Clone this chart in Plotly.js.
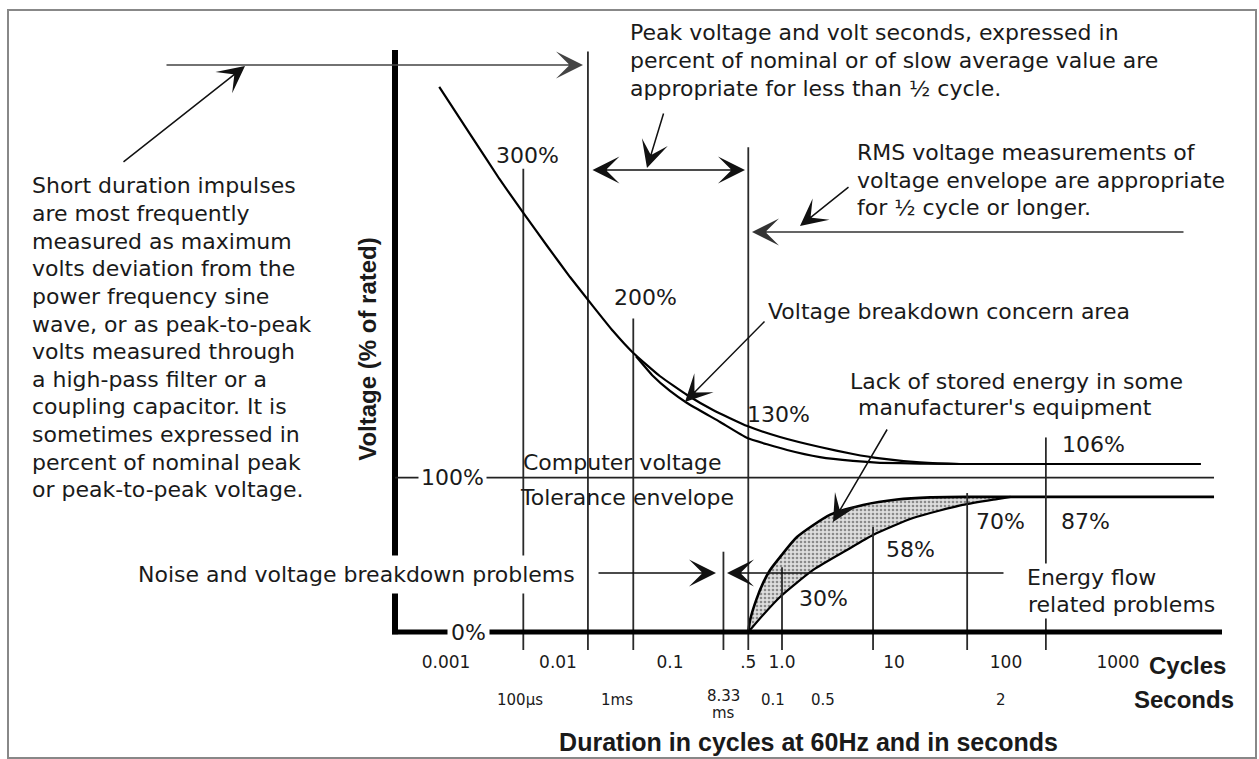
<!DOCTYPE html>
<html>
<head>
<meta charset="utf-8">
<script src="https://cdn.plot.ly/plotly-3.0.1.min.js"></script>
<style>html,body{margin:0;padding:0;background:#fff}#chart{width:1259px;height:759px}</style>
</head>
<body>
<div id="chart"></div>
<script>
// ---------- data (duration in cycles at 60 Hz, voltage in % of rated) ----------
const xTickVals = [0.001, 0.01, 0.1, 0.5, 1, 10, 100, 1000];
const xTickText = ['0.001', '0.01', '0.1', '.5', '1.0', '10', '100', '1000'];

// over-voltage envelope (outer curve)
const overCycles = [0.00087, 0.00164, 0.0030, 0.0049, 0.0080, 0.0128, 0.0205, 0.031, 0.047, 0.081, 0.142, 0.242, 0.49, 0.96, 2.18, 4.3, 7.5, 17, 39, 5500];
const overPct    = [353, 322.5, 293.4, 271.4, 250, 229.9, 211.1, 194.9, 180.7, 165.8, 153.5, 143.8, 133.4, 126.3, 119.8, 115.3, 112.4, 109.8, 108.8, 108.8];

// inner branch: voltage breakdown concern area
const breakCycles = [0.0497, 0.0705, 0.1, 0.142, 0.28, 0.49, 1.11, 2.18, 4.3, 7.5, 17, 39];
const breakPct    = [178.6, 165.8, 156.1, 148.3, 136, 125.6, 117.9, 113.3, 110.8, 109.6, 109.1, 108.8];

// under-voltage envelope (outer) and inner curve: lack of stored energy band
const underOuterCycles = [0.5, 0.52, 0.59, 0.68, 0.78, 0.96, 1.36, 2.7, 5.3, 10.6, 21, 45, 7200];
const underOuterPct    = [0, 8, 21, 32, 40, 48.5, 61.5, 76, 82.3, 85.8, 87.2, 87.5, 87.5];
const underInnerCycles = [0.5, 0.69, 0.96, 1.9, 3.8, 6.5, 14.8, 41, 83, 110];
const underInnerPct    = [0, 11.7, 22.7, 40.2, 53.1, 62.8, 73.8, 82.3, 86.1, 87.5];

// vertical reference lines (duration, top of line in %)
const markerCycles = [0.0049, 0.0185, 0.047, 0.3, 0.5, 1, 6.5, 45, 227];
const markerTopPct = [300, 376, 203, 52, 314, 42, 68, 90, 126];

const nominalPct = 100;
const pctLabels = ['300%', '200%', '130%', '106%', '87%', '70%', '58%', '30%'];
const secLabels = ['100µs', '1ms', '8.33', 'ms', '0.1', '0.5', '2'];

const noteImpulse = ['Short duration impulses', 'are most frequently', 'measured as maximum',
  'volts deviation from the', 'power frequency sine', 'wave, or as peak-to-peak',
  'volts measured through', 'a high-pass filter or a', 'coupling capacitor. It is',
  'sometimes expressed in', 'percent of nominal peak', 'or peak-to-peak voltage.'];
const notePeak = ['Peak voltage and volt seconds, expressed in',
  'percent of nominal or of slow average value are', 'appropriate for less than ½ cycle.'];
const noteRms = ['RMS voltage measurements of', 'voltage envelope are appropriate', 'for ½ cycle or longer.'];

// ---------- layout geometry ----------
const L = 395, T = 48, W = 827, H = 602;
const PX = x => (x - L) / W;
const PY = y => (T + H - y) / H;
const yRange = [-11.66, 378.24];
const xRange = [-3.4554, 3.9286];

const F = 'DejaVu Sans, Verdana, sans-serif';
const FB = 'Liberation Sans, Arial, sans-serif';
const INK = '#1a1a1a';

function txt(text, x, y, o) {
  return Object.assign({text: text, xref: 'paper', yref: 'paper', x: PX(x), y: PY(y),
    xanchor: 'left', yanchor: 'middle', showarrow: false, borderpad: 0,
    font: {family: F, size: 22, color: INK}}, o || {});
}
function arrow(hx, hy, tx, ty, o) {
  return Object.assign({text: '', xref: 'paper', yref: 'paper', x: PX(hx), y: PY(hy),
    ax: tx - hx, ay: ty - hy, axref: 'pixel', ayref: 'pixel', showarrow: true,
    arrowhead: 3, arrowsize: 3, arrowwidth: 1.5, arrowcolor: '#111',
    standoff: 0, startstandoff: 0}, o || {});
}

// ---------- traces ----------
const mx = [], my = [];
markerCycles.forEach((c, i) => { mx.push(c, c, null); my.push(yRange[0] - 5, markerTopPct[i], null); });

const traces = [
  {x: underInnerCycles, y: underInnerPct, mode: 'lines', line: {color: '#000', width: 2.2, shape: 'spline', smoothing: 0.6}, hoverinfo: 'skip'},
  {x: underOuterCycles, y: underOuterPct, mode: 'lines', line: {color: '#000', width: 2.6, shape: 'spline', smoothing: 0.6},
   fill: 'tonexty', fillcolor: '#d4d4d4',
   fillpattern: {shape: '.', bgcolor: '#dedede', fgcolor: '#8a8a8a', size: 4, solidity: 0.35}, hoverinfo: 'skip'},
  {x: mx, y: my, mode: 'lines', line: {color: '#2a2a2a', width: 1.8}, hoverinfo: 'skip', connectgaps: false},
  {x: breakCycles, y: breakPct, mode: 'lines', line: {color: '#000', width: 2.2, shape: 'spline', smoothing: 0.4}, hoverinfo: 'skip'},
  {x: overCycles, y: overPct, mode: 'lines', line: {color: '#000', width: 2.2, shape: 'spline', smoothing: 0.4}, hoverinfo: 'skip'}
];

// ---------- annotations ----------
const ann = [];
noteImpulse.forEach((s, i) => ann.push(txt(s, 31, 186 + i * 27.6)));
notePeak.forEach((s, i) => ann.push(txt(s, 629, 32 + i * 28)));
noteRms.forEach((s, i) => ann.push(txt(s, 856, 152 + i * 28)));

const pctPos = [[527, 155], [645, 297], [778, 415], [1093, 445], [1085, 521], [1000, 521], [910, 549], [823, 598]];
pctLabels.forEach((s, i) => ann.push(txt(s, pctPos[i][0], pctPos[i][1], {xanchor: 'center'})));

ann.push(txt('Voltage breakdown concern area', 767, 311));
ann.push(txt('Lack of stored energy in some', 849, 381));
ann.push(txt("manufacturer's equipment", 857, 408));
ann.push(txt('Computer voltage', 522, 462));
ann.push(txt('Tolerance envelope', 519, 497));
ann.push(txt('Noise and voltage breakdown problems', 582, 574, {xanchor: 'right', bgcolor: '#fff', borderpad: 6}));
ann.push(txt('Energy flow', 1025, 577, {bgcolor: '#fff', borderpad: 1}));
ann.push(txt('related problems', 1026, 604, {bgcolor: '#fff', borderpad: 1}));

// stub labels on the vertical axis
ann.push({text: '100%', xref: 'paper', yref: 'y', x: PX(452), y: nominalPct, xanchor: 'center', yanchor: 'middle',
  showarrow: false, bgcolor: '#fff', borderpad: 2, font: {family: F, size: 22, color: INK}});
ann.push({text: '0%', xref: 'paper', yref: 'y', x: PX(468), y: 0, xanchor: 'center', yanchor: 'middle',
  showarrow: false, bgcolor: '#fff', borderpad: 3, font: {family: F, size: 22, color: INK}});

// axis captions
ann.push(txt('Cycles', 1148, 665, {font: {family: FB, size: 24, color: INK, weight: 'bold'}}));
ann.push(txt('Seconds', 1133, 699, {font: {family: FB, size: 24, color: INK, weight: 'bold'}}));
const secPos = [[520, 700], [617, 700], [723, 696], [723, 713], [773, 700], [823, 700], [1001, 700]];
secLabels.forEach((s, i) => ann.push(txt(s, secPos[i][0], secPos[i][1], {xanchor: 'center', font: {family: F, size: 15, color: INK}})));

// arrows
ann.push(arrow(583, 65, 165, 65, {arrowcolor: '#444'}));
ann.push(arrow(245, 66, 122, 163));
ann.push(arrow(745, 170, 591, 170, {arrowside: 'end+start'}));
ann.push(arrow(647, 168, 664, 112));
ann.push(arrow(752, 232, 1185, 232, {arrowcolor: '#333'}));
ann.push(arrow(800, 226, 850, 186));
ann.push(arrow(685, 402, 766, 320));
ann.push(arrow(833, 522, 888, 428));
ann.push(arrow(716, 573, 597, 573));
ann.push(arrow(727, 573, 1005, 573));

// ---------- shapes (axes frame and reference lines) ----------
const shapes = [
  {type: 'rect', xref: 'paper', yref: 'paper', x0: PX(8), x1: PX(1256), y0: PY(758), y1: PY(10), line: {color: '#888', width: 2}},
  {type: 'line', xref: 'paper', yref: 'y', x0: 0, x1: 0, y0: -1.5, y1: 377, line: {color: '#000', width: 6}},
  {type: 'line', xref: 'paper', yref: 'y', x0: PX(392), x1: PX(1222), y0: 0, y1: 0, line: {color: '#000', width: 5}},
  {type: 'line', xref: 'paper', yref: 'y', x0: 0, x1: PX(1214), y0: nominalPct, y1: nominalPct, line: {color: '#222', width: 1.6}}
];

const layout = {
  width: 1259, height: 759,
  margin: {l: L, r: 1259 - L - W, t: T, b: 759 - T - H, pad: 0},
  paper_bgcolor: '#fff', plot_bgcolor: '#fff',
  showlegend: false,
  xaxis: {type: 'log', range: xRange, tickvals: xTickVals, ticktext: xTickText,
    showgrid: false, zeroline: false, showline: false, ticks: '',
    tickfont: {family: F, size: 17, color: INK},
    title: {text: 'Duration in cycles at 60Hz and in seconds', standoff: 62,
      font: {family: FB, size: 25, color: INK, weight: 'bold'}}},
  yaxis: {range: yRange, showgrid: false, zeroline: false, showline: false, ticks: '', showticklabels: false,
    title: {text: 'Voltage (% of rated)', standoff: 10,
      font: {family: FB, size: 24, color: INK, weight: 'bold'}}},
  annotations: ann,
  shapes: shapes
};

Plotly.newPlot('chart', traces, layout, {displayModeBar: false, staticPlot: true});
</script>
</body>
</html>
